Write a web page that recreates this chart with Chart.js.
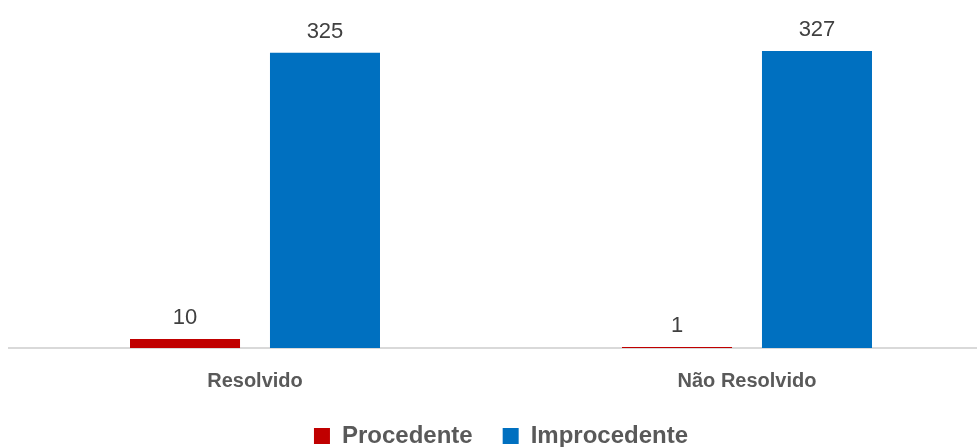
<!DOCTYPE html>
<html>
<head>
<meta charset="utf-8">
<script src="https://cdn.jsdelivr.net/npm/chart.js@4.4.0/dist/chart.umd.min.js"></script>
<style>
  html, body { margin: 0; padding: 0; background: #ffffff; overflow: hidden; }
  #wrap { width: 1000px; height: 460px; margin-top: -2px; }
</style>
</head>
<body>
<div id="wrap"><canvas id="mainCanvas" width="1000" height="460"></canvas></div>
<script>
const categories = ['Resolvido', 'Não Resolvido'];
const procedente = [10, 1];
const improcedente = [325, 327];
const seriesNames = ['Procedente', 'Improcedente'];

// value labels above the bars, like the Excel data labels
const barLabels = {
    id: 'barLabels',
    afterDatasetsDraw(chart) {
        const ctx = chart.ctx;
        ctx.save();
        ctx.font = '22px "Liberation Sans", Arial, sans-serif';
        ctx.fillStyle = '#404040';
        ctx.textAlign = 'center';
        ctx.textBaseline = 'alphabetic';
        chart.data.datasets.forEach((ds, i) => {
            chart.getDatasetMeta(i).data.forEach((bar, j) => {
                ctx.fillText(String(ds.data[j]), bar.x, bar.y - 15);
            });
        });
        ctx.restore();
    }
};

const ctx = document.getElementById('mainCanvas').getContext('2d');
const myChart = new Chart(ctx, {
    type: 'bar',
    data: {
        labels: categories,
        datasets: [{
            label: seriesNames[0],
            data: procedente,
            backgroundColor: '#C00000',
            borderWidth: 0
        }, {
            label: seriesNames[1],
            data: improcedente,
            backgroundColor: '#0070C0',
            borderWidth: 0
        }]
    },
    options: {
        responsive: false,
        devicePixelRatio: 1,
        animation: false,
        categoryPercentage: 0.569,
        barPercentage: 0.786,
        layout: {
            padding: { top: 32, left: 9, right: 7, bottom: 0 }
        },
        scales: {
            y: {
                display: false,
                min: 0,
                max: 350
            },
            x: {
                grid: { display: false, drawTicks: false },
                border: { color: '#D9D9D9', width: 2 },
                ticks: {
                    padding: 21,
                    color: '#595959',
                    font: { family: '"Liberation Sans", Arial, sans-serif', size: 20, weight: 'bold' }
                }
            }
        },
        plugins: {
            tooltip: { enabled: false },
            legend: {
                position: 'bottom',
                labels: {
                    boxWidth: 16,
                    boxHeight: 16,
                    padding: 10,
                    color: '#595959',
                    font: { family: '"Liberation Sans", Arial, sans-serif', size: 24, weight: 'bold' },
                    generateLabels(chart) {
                        const items = Chart.defaults.plugins.legend.labels.generateLabels(chart);
                        items[0].text = items[0].text + '   ';
                        return items;
                    }
                }
            }
        }
    },
    plugins: [barLabels]
});
</script>
</body>
</html>
